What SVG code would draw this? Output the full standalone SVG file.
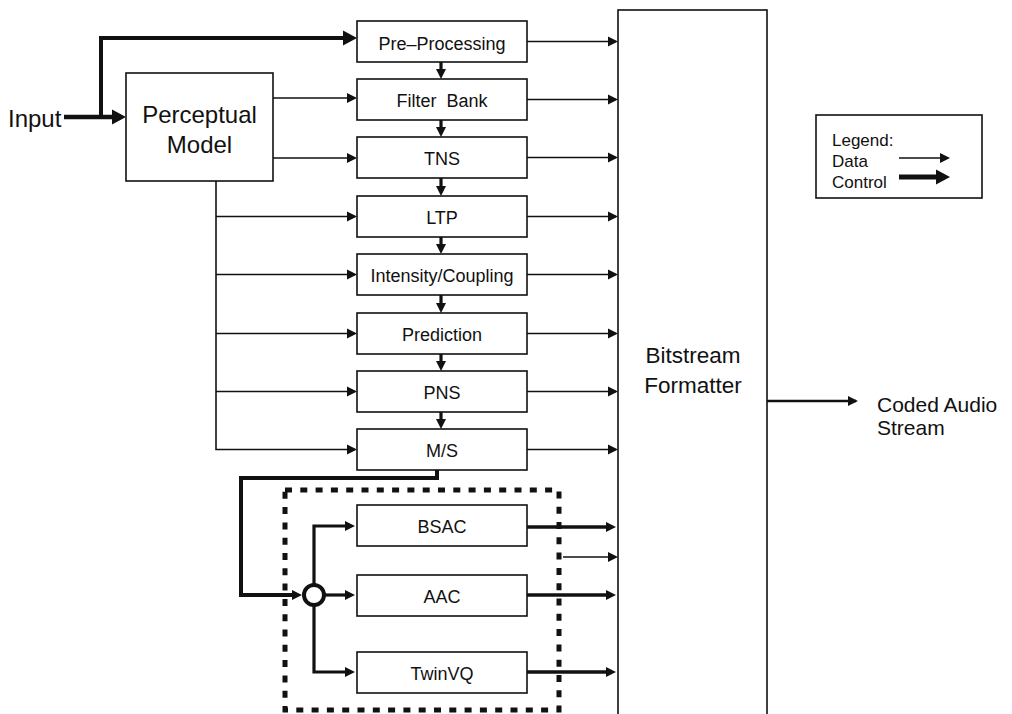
<svg xmlns="http://www.w3.org/2000/svg" width="1012" height="714" viewBox="0 0 1012 714">
  <style>
    .box { fill: #fff; stroke: #111; stroke-width: 1.6; }
    .lbl { font-family: "Liberation Sans", Arial, Helvetica, sans-serif; fill: #111; text-anchor: middle; font-size: 18px; }
    .big { font-size: 24px; }
    .fmt { font-size: 22.5px; }
    .txt { font-family: "Liberation Sans", Arial, Helvetica, sans-serif; fill: #111; }
    .data { fill: none; stroke: #111; stroke-width: 1.6; }
    .ctrl { fill: none; stroke: #111; stroke-width: 4; }
    .mid { fill: none; stroke: #111; stroke-width: 3.2; }
    .dash { fill: none; stroke: #111; stroke-width: 5; stroke-dasharray: 7 8.3; }
  </style>
  <defs>
    <marker id="ah-thin" markerUnits="userSpaceOnUse" markerWidth="11" markerHeight="11" refX="8" refY="5.5" orient="auto">
      <path d="M0,0.5 L10,5.5 L0,10.5 z" fill="#111"/>
    </marker>
    <marker id="ah-mid" markerUnits="userSpaceOnUse" markerWidth="12" markerHeight="12" refX="6" refY="6" orient="auto">
      <path d="M0,1 L10,6 L0,11 z" fill="#111"/>
    </marker>
    <marker id="ah-thick" markerUnits="userSpaceOnUse" markerWidth="16" markerHeight="16" refX="9" refY="8" orient="auto">
      <path d="M0,0.5 L14,8 L0,15.5 z" fill="#111"/>
    </marker>
  </defs>

  <!-- input label -->
  <text class="txt" x="8" y="127" font-size="24">Input</text>

  <g id="perceptual-model">
    <rect class="box" x="126" y="73" width="147" height="108"/>
    <text class="lbl big" x="199.5" y="123">Perceptual</text>
    <text class="lbl big" x="199.5" y="153">Model</text>
  </g>

  <g id="pre-processing">
    <rect class="box" x="357" y="21" width="170" height="41"/>
    <text class="lbl" x="442" y="50">Pre–Processing</text>
  </g>
  <g id="filter-bank">
    <rect class="box" x="357" y="79" width="170" height="41"/>
    <text class="lbl" x="442" y="107" xml:space="preserve">Filter  Bank</text>
  </g>
  <g id="tns">
    <rect class="box" x="357" y="137" width="170" height="41"/>
    <text class="lbl" x="442" y="165">TNS</text>
  </g>
  <g id="ltp">
    <rect class="box" x="357" y="196" width="170" height="41"/>
    <text class="lbl" x="442" y="224">LTP</text>
  </g>
  <g id="intensity-coupling">
    <rect class="box" x="357" y="254" width="170" height="41"/>
    <text class="lbl" x="442" y="282">Intensity/Coupling</text>
  </g>
  <g id="prediction">
    <rect class="box" x="357" y="313" width="170" height="41"/>
    <text class="lbl" x="442" y="341">Prediction</text>
  </g>
  <g id="pns">
    <rect class="box" x="357" y="371" width="170" height="41"/>
    <text class="lbl" x="442" y="399">PNS</text>
  </g>
  <g id="ms">
    <rect class="box" x="357" y="429" width="170" height="41"/>
    <text class="lbl" x="442" y="457">M/S</text>
  </g>

  <g id="bsac">
    <rect class="box" x="357" y="505" width="170" height="41"/>
    <text class="lbl" x="442" y="533">BSAC</text>
  </g>
  <g id="aac">
    <rect class="box" x="357" y="575" width="170" height="41"/>
    <text class="lbl" x="442" y="603">AAC</text>
  </g>
  <g id="twinvq">
    <rect class="box" x="357" y="652" width="170" height="41"/>
    <text class="lbl" x="442" y="680">TwinVQ</text>
  </g>

  <!-- tool selection region -->
  <g id="coder-select">
    <rect class="dash" x="285" y="490" width="274" height="220"/>
    <circle cx="314" cy="595" r="10" fill="#fff" stroke="#111" stroke-width="4"/>
  </g>

  <g id="bitstream-formatter">
    <rect class="box" x="618" y="10" width="149" height="720"/>
    <text class="lbl fmt" x="693" y="363">Bitstream</text>
    <text class="lbl fmt" x="693" y="393">Formatter</text>
  </g>

  <g id="output-label">
    <text class="txt" x="877" y="412" font-size="21">Coded Audio</text>
    <text class="txt" x="877" y="435" font-size="21">Stream</text>
  </g>

  <g id="legend">
    <rect class="box" x="816" y="115" width="166" height="83"/>
    <text class="txt" x="832" y="146" font-size="17">Legend:</text>
    <text class="txt" x="832" y="167" font-size="17">Data</text>
    <text class="txt" x="832" y="188" font-size="17">Control</text>
    <line class="data" x1="899" y1="158" x2="948" y2="158" marker-end="url(#ah-thin)"/>
    <line class="ctrl" x1="899" y1="177" x2="945" y2="177" style="stroke-width:5" marker-end="url(#ah-thick)"/>
  </g>

  <g id="connectors">
    <!-- input control paths -->
    <line class="ctrl" x1="64" y1="117" x2="121" y2="117" style="stroke-width:4.5" marker-end="url(#ah-thick)"/>
    <path class="ctrl" d="M101,117 V38 H352" marker-end="url(#ah-thick)"/>

    <!-- perceptual model to processing tools -->
    <line class="data" x1="273" y1="98" x2="355" y2="98" marker-end="url(#ah-thin)"/>
    <line class="data" x1="273" y1="158" x2="355" y2="158" marker-end="url(#ah-thin)"/>
    <path class="data" d="M216,181 V449.5 H355" marker-end="url(#ah-thin)"/>
    <line class="data" x1="216" y1="216.5" x2="355" y2="216.5" marker-end="url(#ah-thin)"/>
    <line class="data" x1="216" y1="274.5" x2="355" y2="274.5" marker-end="url(#ah-thin)"/>
    <line class="data" x1="216" y1="333.5" x2="355" y2="333.5" marker-end="url(#ah-thin)"/>
    <line class="data" x1="216" y1="391.5" x2="355" y2="391.5" marker-end="url(#ah-thin)"/>

    <!-- chain through the tool column -->
    <line class="mid" x1="441" y1="62" x2="441" y2="75" marker-end="url(#ah-mid)"/>
    <line class="mid" x1="441" y1="120" x2="441" y2="133" marker-end="url(#ah-mid)"/>
    <line class="mid" x1="441" y1="178" x2="441" y2="192" marker-end="url(#ah-mid)"/>
    <line class="mid" x1="441" y1="237" x2="441" y2="250" marker-end="url(#ah-mid)"/>
    <line class="mid" x1="441" y1="295" x2="441" y2="309" marker-end="url(#ah-mid)"/>
    <line class="mid" x1="441" y1="354" x2="441" y2="367" marker-end="url(#ah-mid)"/>
    <line class="mid" x1="441" y1="412" x2="441" y2="425" marker-end="url(#ah-mid)"/>

    <!-- tool side info to bitstream formatter -->
    <line class="data" x1="527" y1="41.5" x2="616" y2="41.5" marker-end="url(#ah-thin)"/>
    <line class="data" x1="527" y1="99.5" x2="616" y2="99.5" marker-end="url(#ah-thin)"/>
    <line class="data" x1="527" y1="157.5" x2="616" y2="157.5" marker-end="url(#ah-thin)"/>
    <line class="data" x1="527" y1="216.5" x2="616" y2="216.5" marker-end="url(#ah-thin)"/>
    <line class="data" x1="527" y1="274.5" x2="616" y2="274.5" marker-end="url(#ah-thin)"/>
    <line class="data" x1="527" y1="333.5" x2="616" y2="333.5" marker-end="url(#ah-thin)"/>
    <line class="data" x1="527" y1="391.5" x2="616" y2="391.5" marker-end="url(#ah-thin)"/>
    <line class="data" x1="527" y1="449.5" x2="616" y2="449.5" marker-end="url(#ah-thin)"/>

    <!-- M/S output into the coder switch -->
    <path class="ctrl" d="M437,470 V478 H241 V595 H298" marker-end="url(#ah-mid)"/>

    <!-- switch to coders -->
    <path class="mid" d="M314,585 V526 H351" marker-end="url(#ah-mid)"/>
    <line class="mid" x1="324" y1="595" x2="351" y2="595" marker-end="url(#ah-mid)"/>
    <path class="mid" d="M314,605 V672 H351" marker-end="url(#ah-mid)"/>

    <!-- coder outputs -->
    <line class="ctrl" x1="527" y1="527" x2="612" y2="527" style="stroke-width:3.5" marker-end="url(#ah-mid)"/>
    <line class="data" x1="563" y1="557" x2="616" y2="557" marker-end="url(#ah-thin)"/>
    <line class="ctrl" x1="527" y1="595" x2="612" y2="595" style="stroke-width:3.5" marker-end="url(#ah-mid)"/>
    <line class="ctrl" x1="527" y1="672" x2="612" y2="672" style="stroke-width:3.5" marker-end="url(#ah-mid)"/>

    <!-- coded stream -->
    <line class="data" x1="767" y1="401" x2="856" y2="401" style="stroke-width:2.5" marker-end="url(#ah-thin)"/>
  </g>
</svg>
